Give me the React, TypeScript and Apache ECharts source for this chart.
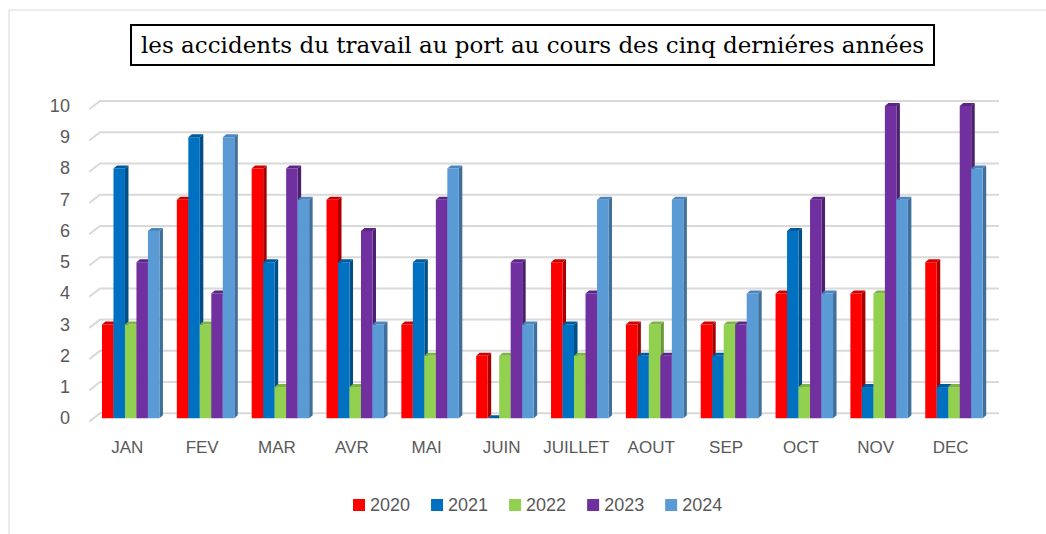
import React, { useEffect, useRef } from "react";
import * as echarts from "echarts";

const categories = ["JAN", "FEV", "MAR", "AVR", "MAI", "JUIN", "JUILLET", "AOUT", "SEP", "OCT", "NOV", "DEC"];
const years = ["2020", "2021", "2022", "2023", "2024"];
const v2020 = [3, 7, 8, 7, 3, 2, 5, 3, 3, 4, 4, 5];
const v2021 = [8, 9, 5, 5, 5, 0, 3, 2, 2, 6, 1, 1];
const v2022 = [3, 3, 1, 1, 2, 2, 2, 3, 3, 1, 4, 1];
const v2023 = [5, 4, 8, 6, 7, 5, 4, 2, 3, 7, 10, 10];
const v2024 = [6, 9, 7, 3, 8, 3, 7, 7, 4, 4, 7, 8];
const yTicks = [0, 1, 2, 3, 4, 5, 6, 7, 8, 9, 10];

const seriesValues = [v2020, v2021, v2022, v2023, v2024];
const frontColors = ["#FF0000", "#0070C0", "#92D050", "#7030A0", "#5B9BD5"];
const sideColors = ["#A80000", "#004E86", "#6A9A38", "#4C1F70", "#3F6F9B"];
const topColors = ["#D00000", "#005A9C", "#7DB443", "#5A2586", "#4B86BF"];

const TITLE = "les accidents du travail au port au cours des cinq derniéres années";
const LABEL_FONT = "'Liberation Sans', Arial, sans-serif";

export default function App() {
  const ref = useRef<HTMLDivElement>(null);
  useEffect(() => {
    if (!ref.current) return;
    const chart = echarts.init(ref.current, null, { renderer: "svg" });

    const barSeries = seriesValues.map((vals, i) => ({
      type: "custom",
      name: years[i],
      xAxisIndex: 0,
      yAxisIndex: 0,
      z: 3,
      itemStyle: { color: frontColors[i] },
      encode: { x: 0, y: 1 },
      data: vals.map((v, c) => [c, v]),
      renderItem: (params: any, api: any) => {
        const c = api.value(0);
        const v = api.value(1);
        const b = api.coord([c, 0]);
        const t = api.coord([c, v]);
        const cw = api.size([1, 0])[0];
        const bw = cw * 0.1536;
        const x0 = b[0] - 2.5 * bw + 3.4 + i * bw;
        const d = 3.5;
        const dy = 3;
        return {
          type: "group",
          children: [
            {
              type: "polygon",
              shape: {
                points: [
                  [x0 + bw, t[1]],
                  [x0 + bw + d, t[1] - dy],
                  [x0 + bw + d, b[1] - dy],
                  [x0 + bw, b[1]],
                ],
              },
              style: { fill: sideColors[i] },
            },
            {
              type: "rect",
              shape: { x: x0, y: t[1], width: bw, height: b[1] - t[1] },
              style: { fill: frontColors[i] },
            },
            {
              type: "polygon",
              shape: {
                points: [
                  [x0, t[1]],
                  [x0 + d, t[1] - dy],
                  [x0 + bw + d, t[1] - dy],
                  [x0 + bw, t[1]],
                ],
              },
              style: { fill: topColors[i] },
            },
          ],
        };
      },
    }));

    const gridSeries = {
      type: "custom",
      name: "grid",
      xAxisIndex: 1,
      yAxisIndex: 1,
      z: 1,
      silent: true,
      encode: { x: 0, y: 1 },
      data: yTicks.map((v) => [0, v]),
      renderItem: (params: any, api: any) => {
        const v = api.value(1);
        const p0 = api.coord([0, v]);
        const p1 = api.coord([1, v]);
        return {
          type: "polyline",
          shape: { points: [[p0[0] - 10.7, p0[1] + 8.3], p0, p1] },
          style: { stroke: "#D9D9D9", lineWidth: 2, fill: "none" },
        };
      },
    };

    chart.setOption({
      animation: false,
      backgroundColor: "#ffffff",
      title: {
        text: TITLE,
        left: 131,
        top: 25,
        padding: [7, 10],
        borderColor: "#000000",
        borderWidth: 2,
        textStyle: {
          fontFamily: "'DejaVu Serif', serif",
          fontWeight: "normal",
          fontSize: 23,
          color: "#000000",
          lineHeight: 26,
        },
      },
      graphic: [
        {
          type: "rect",
          shape: { x: 9, y: 10, width: 1200, height: 700 },
          style: { stroke: "#D9D9D9", fill: "none", lineWidth: 1 },
          silent: true,
          z: -1,
        },
      ],
      legend: {
        data: years,
        top: 491,
        left: 348,
        icon: "rect",
        itemWidth: 12,
        itemHeight: 12,
        itemGap: 21,
        textStyle: { fontFamily: LABEL_FONT, fontSize: 18, color: "#595959" },
      },
      grid: [
        { left: 89.9, right: 58, top: 106, bottom: 115.7, containLabel: false },
        { left: 100, right: 47, top: 101, bottom: 120.7, containLabel: false },
      ],
      xAxis: [
        {
          type: "category",
          gridIndex: 0,
          data: categories,
          boundaryGap: true,
          axisLine: { show: false },
          axisTick: { show: false },
          axisLabel: { fontFamily: LABEL_FONT, fontSize: 17, color: "#595959", margin: 21, interval: 0 },
        },
        { type: "value", gridIndex: 1, min: 0, max: 1, show: false },
      ],
      yAxis: [
        {
          type: "value",
          gridIndex: 0,
          min: 0,
          max: 10,
          interval: 1,
          axisLine: { show: false },
          axisTick: { show: false },
          splitLine: { show: false },
          axisLabel: { fontFamily: LABEL_FONT, fontSize: 18, color: "#595959", margin: 20, padding: [6, 0, 0, 0] },
        },
        { type: "value", gridIndex: 1, min: 0, max: 10, interval: 1, show: false },
      ],
      series: [gridSeries, ...barSeries],
    });
    return () => chart.dispose();
  }, []);

  return (
    <div
      ref={ref}
      style={{ position: "absolute", left: 0, top: 0, width: 1046, height: 534, background: "#fff" }}
    />
  );
}
